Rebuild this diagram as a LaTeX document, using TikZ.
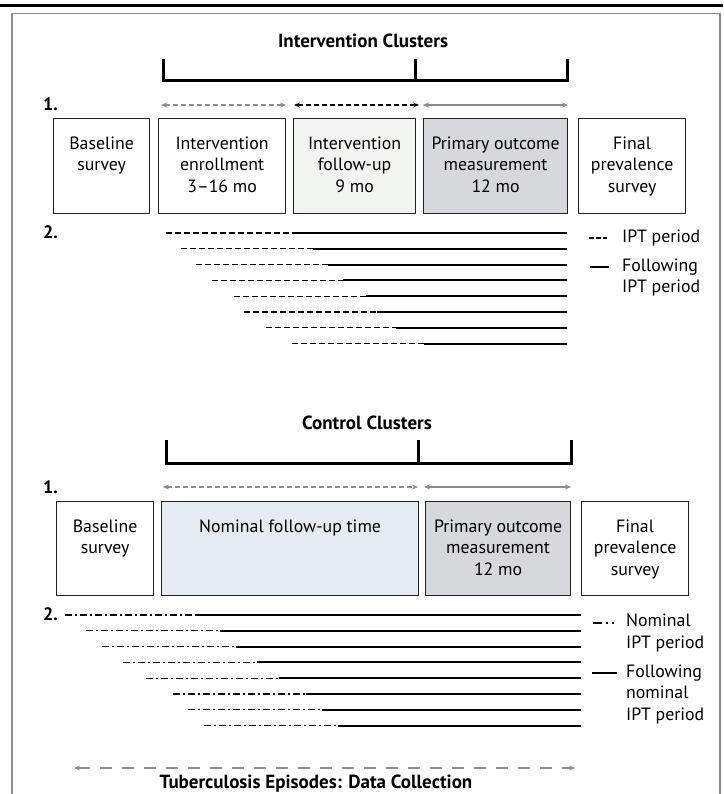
\documentclass[tikz,border=0pt]{standalone}
\usepackage{fontspec}
\setmainfont{PT Sans}
\usetikzlibrary{arrows.meta}
\definecolor{framegray}{HTML}{8A8A8A}
\definecolor{arrgray}{HTML}{8C8C8C}
\definecolor{fufill}{HTML}{F2F4F1}
\definecolor{pofill}{HTML}{D7D8DB}
\definecolor{nomfill}{HTML}{E4ECF2}
\definecolor{boxline}{HTML}{222222}
\tikzset{
  box/.style={draw=boxline, line width=1.2pt, inner sep=0, anchor=north west},
  btxt/.style={font=\fontsize{17.8}{21.5}\selectfont, align=center, anchor=north, inner sep=0},
  ltxt/.style={font=\fontsize{17.8}{21.5}\selectfont, align=left, anchor=north west, inner sep=0},
  head/.style={font=\fontsize{19}{22}\selectfont\bfseries, inner sep=0, anchor=base},
  numlbl/.style={font=\fontsize{18}{20}\selectfont\bfseries, inner sep=0, anchor=base west},
  brk/.style={line width=3pt, line join=miter},
  tip/.style={{Stealth[length=6pt,width=5pt]}-{Stealth[length=6pt,width=5pt]}},
  garr/.style={tip, draw=arrgray, line width=1.8pt, dash pattern=on 5pt off 3pt},
  barr/.style={tip, draw=black, line width=1.8pt, dash pattern=on 5pt off 3pt},
  gsol/.style={tip, draw=arrgray, line width=1.8pt},
  ipt/.style={line width=1.1pt, dash pattern=on 6pt off 3pt},
  nipt/.style={line width=1.1pt, dash pattern=on 7pt off 3pt on 2pt off 3pt},
  foll/.style={line width=2pt},
}
\begin{document}
\begin{tikzpicture}[x=1pt,y=-1pt]
\useasboundingbox (0,0) rectangle (723,794);
% top rule and frame
\draw[line width=3pt] (0,6) -- (723,6);
\draw[framegray, line width=1.5pt] (12,794) -- (12,13.5) -- (720,13.5) -- (720,794);

% ---------------- Intervention ----------------
\node[head] (ihead) at (363,48) {Intervention Clusters};
\draw[brk] (163,59) -- (163,81) -- (567,81) -- (567,59);
\draw[brk] (415,59) -- (415,81);
\node[numlbl] (i1) at (43,111) {1.};
\coordinate (ia0) at (161,105); \coordinate (ia1) at (286,105);
\coordinate (ib0) at (294,105); \coordinate (ib1) at (419,105);
\coordinate (ic0) at (423,105); \coordinate (ic1) at (568,105);
\draw[garr] (ia0) -- (ia1);
\draw[barr] (ib0) -- (ib1);
\draw[gsol] (ic0) -- (ic1);

\node[box, minimum width=96, minimum height=95] (ibase) at (53,118) {};
\node[box, minimum width=127, minimum height=95] (ienr) at (158,118) {};
\node[box, fill=fufill, minimum width=122, minimum height=95] (ifu) at (293,118) {};
\node[box, fill=pofill, minimum width=144, minimum height=95] (ipo) at (423,118) {};
\node[box, minimum width=107, minimum height=95] (ifin) at (578,118) {};
\node[btxt] (tibase) at ([yshift=-18.5]ibase.north) {Baseline\\survey};
\node[btxt] (tienr) at ([yshift=-18.5]ienr.north) {Intervention\\enrollment\\3–16 mo};
\node[btxt] (tifu) at ([yshift=-18.5]ifu.north) {Intervention\\follow-up\\9 mo};
\node[btxt] (tipo) at ([yshift=-18.5]ipo.north) {Primary outcome\\measurement\\12 mo};
\node[btxt] (tifin) at ([yshift=-18.5]ifin.north) {Final\\prevalence\\survey};

\node[numlbl] (i2) at (43,239) {2.};
\foreach \s/\t [count=\i from 0] in {166/297,181/313,196/328,212/343,234/366,244/377,266/396,292/424}{
  \coordinate (is\i) at (\s,{233+15.8*\i});
  \coordinate (it\i) at (\t,{233+15.8*\i});
  \coordinate (ie\i) at (567,{233+15.8*\i});
  \draw[ipt] (is\i) -- (it\i);
  \draw[foll] (it\i) -- (ie\i);
}
\coordinate (il1a) at (589,238); \coordinate (il1b) at (607,238);
\draw[ipt, dash pattern=on 4.5pt off 2.5pt] (il1a) -- (il1b);
\node[font=\fontsize{17.8}{21.5}\selectfont, anchor=west, inner sep=0] (il1t) at (622,238) {IPT period};
\coordinate (il2a) at (590,267); \coordinate (il2b) at (609,267);
\draw[foll] (il2a) -- (il2b);
\node[ltxt] (il2t) at (622,258.5) {Following\\IPT period};

% ---------------- Control ----------------
\node[head] (chead) at (367,429) {Control Clusters};
\draw[brk] (166,440) -- (166,463) -- (571,463) -- (571,440);
\draw[brk] (418,440) -- (418,463);
\node[numlbl] (c1) at (43,493) {1.};
\coordinate (ca0) at (163,487); \coordinate (ca1) at (418,487);
\coordinate (cb0) at (424,487); \coordinate (cb1) at (571,487);
\draw[garr] (ca0) -- (ca1);
\draw[gsol] (cb0) -- (cb1);

\node[box, minimum width=97, minimum height=94] (cbase) at (56,501) {};
\node[box, fill=nomfill, minimum width=257, minimum height=94] (cnom) at (161,501) {};
\node[box, fill=pofill, minimum width=145, minimum height=94] (cpo) at (425,501) {};
\node[box, minimum width=107, minimum height=94] (cfin) at (581,501) {};
\node[btxt] (tcbase) at ([yshift=-18.5]cbase.north) {Baseline\\survey};
\node[btxt] (tcnom) at ([yshift=-18.5]cnom.north) {Nominal follow-up time};
\node[btxt] (tcpo) at ([yshift=-18.5]cpo.north) {Primary outcome\\measurement\\12 mo};
\node[btxt] (tcfin) at ([yshift=-18.5]cfin.north) {Final\\prevalence\\survey};

\node[numlbl] (c2) at (43,620.5) {2.};
\foreach \s/\t [count=\i from 0] in {65/197,86/220,102/236,123/257,146/279,173/306,188/322,204/338}{
  \coordinate (cs\i) at (\s,{615+15.8*\i});
  \coordinate (ct\i) at (\t,{615+15.8*\i});
  \coordinate (ce\i) at (581,{615+15.8*\i});
  \draw[nipt] (cs\i) -- (ct\i);
  \draw[foll] (ct\i) -- (ce\i);
}
\coordinate (cl1a) at (593,623); \coordinate (cl1b) at (617,623);
\draw[line width=1.1pt, dash pattern=on 9pt off 4pt on 2pt off 4pt on 2pt off 10pt] (cl1a) -- (cl1b);
\node[ltxt] (cl1t) at (626,614) {Nominal\\IPT period};
\coordinate (cl2a) at (592,673); \coordinate (cl2b) at (617,673);
\draw[foll] (cl2a) -- (cl2b);
\node[ltxt] (cl2t) at (626,664.5) {Following\\nominal\\IPT period};

% bottom
\coordinate (tb0) at (74,768); \coordinate (tb1) at (575,768);
\draw[tip, draw=arrgray, line width=2.6pt, dash pattern=on 12pt off 10pt] (tb0) -- (tb1);
\node[head] (tbt) at (316,788.5) {Tuberculosis Episodes: Data Collection};
\end{tikzpicture}
\end{document}
